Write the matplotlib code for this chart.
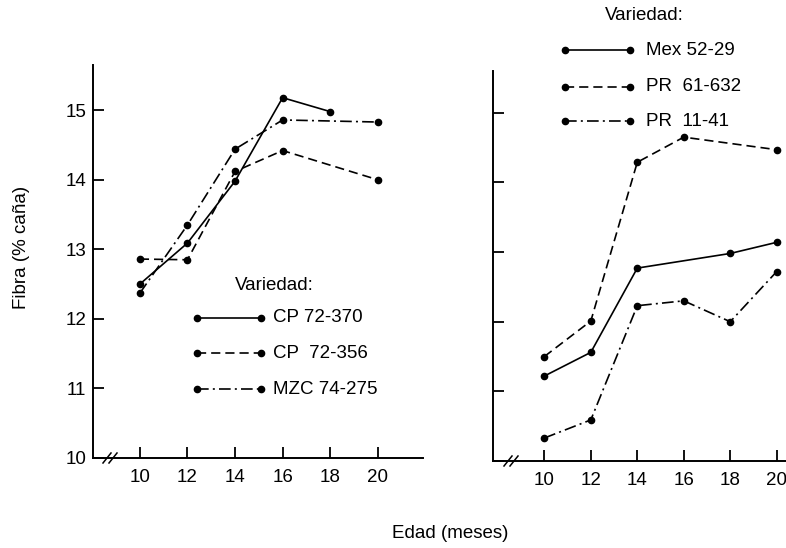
import matplotlib
matplotlib.use("Agg")
import matplotlib.pyplot as plt
from matplotlib.lines import Line2D

plt.rcParams['font.family'] = ['Liberation Sans', 'DejaVu Sans']
plt.rcParams['font.size'] = 13.5

# edad (meses) y fibra (% caña)
ticks_x = [10, 12, 14, 16, 18, 20]
ticks_y = [10, 11, 12, 13, 14, 15]

# panel izquierdo
cp370_x = [10, 12, 14, 16, 18]
cp370 = [12.50, 13.09, 13.98, 15.18, 14.98]
cp356_x = [10, 12, 14, 16, 20]
cp356 = [12.86, 12.85, 14.12, 14.42, 14.00]
mzc_x = [10, 12, 14, 16, 20]
mzc = [12.37, 13.35, 14.44, 14.86, 14.83]
izq_nombres = ['CP 72-370', 'CP  72-356', 'MZC 74-275']

# panel derecho
mex_x = [10, 12, 14, 18, 20]
mex = [11.22, 11.56, 12.77, 12.98, 13.14]
pr632_x = [10, 12, 14, 16, 20]
pr632 = [11.50, 12.01, 14.29, 14.65, 14.47]
pr1141_x = [10, 12, 14, 16, 18, 20]
pr1141 = [10.33, 10.59, 12.23, 12.30, 12.00, 12.72]
der_nombres = ['Mex 52-29', 'PR  61-632', 'PR  11-41']

W, H = 786, 548
fig = plt.figure(figsize=(W / 100, H / 100), dpi=100)

def px(x, y):
    # pixel (desde arriba) -> fraccion de figura
    return x / W, 1 - y / H

solida = '-'
rayas = (0, (5.5, 3))
punto_raya = (0, (7, 2.5, 1.2, 2.5))
estilos = [solida, rayas, punto_raya]
kw = dict(color='black', lw=1.2, marker='o', ms=4.5)

def ejes(x0, x1, ytop, ybot, xlim, ylim, labels):
    l, b = px(x0, ybot)
    r, t = px(x1, ytop)
    ax = fig.add_axes([l, b, r - l, t - b])
    ax.set_xlim(*xlim)
    ax.set_ylim(*ylim)
    for s in ['top', 'right']:
        ax.spines[s].set_visible(False)
    for s in ['left', 'bottom']:
        ax.spines[s].set_linewidth(1.4)
    ax.set_xticks(ticks_x)
    ax.set_yticks(ticks_y)
    ax.tick_params(direction='in', length=8, width=1.3)
    ax.tick_params(axis='x', pad=8)
    ax.tick_params(axis='y', pad=5)
    if not labels:
        ax.set_yticklabels([])
    return ax

def corte(ax, xa):
    # marca de corte // en el eje x
    w = ax.get_position().width * W
    h = ax.get_position().height * H
    dx, dy = 4 / w, 5 / h
    for x in [xa, xa + 6 / w]:
        ax.plot([x - dx, x + dx], [-dy, dy], color='black', lw=1.1,
                transform=ax.transAxes, clip_on=False)

ax1 = ejes(93, 423, 65, 458, (8.03, 21.9), (10, 15.65), True)
ax1.plot(cp370_x, cp370, linestyle=solida, **kw)
ax1.plot(cp356_x, cp356, linestyle=rayas, **kw)
ax1.plot(mzc_x, mzc, linestyle=punto_raya, **kw)
corte(ax1, 14 / 330)

ax2 = ejes(493, 786, 71, 461, (7.79, 20.4), (10, 15.6), False)
ax2.plot(mex_x, mex, linestyle=solida, **kw)
ax2.plot(pr632_x, pr632, linestyle=rayas, **kw)
ax2.plot(pr1141_x, pr1141, linestyle=punto_raya, **kw)
corte(ax2, 15 / 293)

def leyenda(xt, yt, x0, x1, xl, ys, nombres):
    fig.text(*px(xt, yt), 'Variedad:', ha='left', va='center')
    for y, st, nom in zip(ys, estilos, nombres):
        a, b = px(x0, y)
        c, _ = px(x1, y)
        fig.add_artist(Line2D([a, c], [b, b], linestyle=st, markevery=[0, 1],
                              transform=fig.transFigure, **kw))
        fig.text(*px(xl, y), nom, ha='left', va='center')

leyenda(235, 285, 197, 261, 273, [318, 353, 389], izq_nombres)
leyenda(605, 15, 565, 630, 646, [50, 87, 121], der_nombres)

fig.text(*px(22, 247), 'Fibra (% caña)', rotation=90, ha='center', va='center')
fig.text(*px(450, 534), 'Edad (meses)', ha='center', va='center')

fig.savefig('out.png', dpi=100)
